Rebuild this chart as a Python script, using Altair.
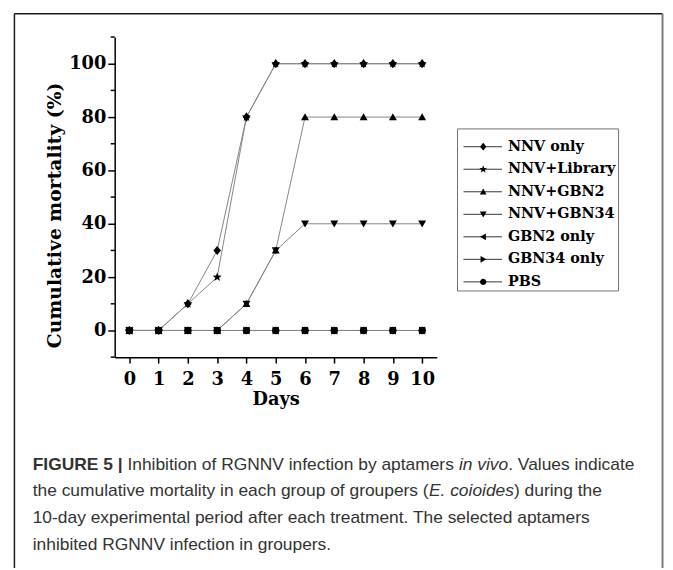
import math
import altair as alt
import pandas as pd

# ---------------- data ----------------
days = [0, 1, 2, 3, 4, 5, 6, 7, 8, 9, 10]
series_names = ["NNV only", "NNV+Library", "NNV+GBN2", "NNV+GBN34",
                "GBN2 only", "GBN34 only", "PBS"]
nnv_only    = [0, 0, 10, 30, 80, 100, 100, 100, 100, 100, 100]
nnv_library = [0, 0, 10, 20, 80, 100, 100, 100, 100, 100, 100]
nnv_gbn2    = [0, 0, 0, 0, 10, 30, 80, 80, 80, 80, 80]
nnv_gbn34   = [0, 0, 0, 0, 10, 30, 40, 40, 40, 40, 40]
gbn2_only   = [0, 0, 0, 0, 0, 0, 0, 0, 0, 0, 0]
gbn34_only  = [0, 0, 0, 0, 0, 0, 0, 0, 0, 0, 0]
pbs         = [0, 0, 0, 0, 0, 0, 0, 0, 0, 0, 0]

y_major_ticks = [0, 20, 40, 60, 80, 100]
y_minor_ticks = [-10, 10, 30, 50, 70, 90, 110]

y_title = "Cumulative mortality (%)"
x_title = "Days"

caption_segments = [
    (0, "FIGURE 5 |", "bold"),
    (0, " Inhibition of RGNNV infection by aptamers ", "normal"),
    (0, "in vivo", "italic"),
    (0, ". Values indicate", "normal"),
    (1, "the cumulative mortality in each group of groupers (", "normal"),
    (1, "E. coioides", "italic"),
    (1, ") during the", "normal"),
    (2, "10-day experimental period after each treatment. The selected aptamers", "normal"),
    (3, "inhibited RGNNV infection in groupers.", "normal"),
]

all_series = [nnv_only, nnv_library, nnv_gbn2, nnv_gbn34, gbn2_only, gbn34_only, pbs]
rows = []
for name, vals in zip(series_names, all_series):
    for d, v in zip(days, vals):
        rows.append({"series": name, "day": d, "value": v})
df = pd.DataFrame(rows)

# ---------------- layout (page px -> plot-origin px) ----------------
W, H = 326, 324
ORIGIN_X, ORIGIN_Y = 116, 34          # page position of plot area's top-left
PAD_L, PAD_T = ORIGIN_X - 8, ORIGIN_Y - 8
PAD_R = 673 - 8 - PAD_L - W
PAD_B = 568 - 8 - PAD_T - H

def rx(px):
    return px - ORIGIN_X

def ry(py):
    return py - ORIGIN_Y

# ---------------- marker shapes ----------------
def poly(pts, scale=1.0):
    return "M" + "L".join(f"{x*scale:.3f},{y*scale:.3f}" for x, y in pts) + "Z"

def circ(r=1.0):
    return f"M{r:.3f},0A{r:.3f},{r:.3f} 0 1,1 {-r:.3f},0A{r:.3f},{r:.3f} 0 1,1 {r:.3f},0Z"

STAR = []
for k in range(10):
    ang = math.radians(-90 + 36 * k)
    r = 1.0 if k % 2 == 0 else 0.42
    STAR.append((r * math.cos(ang), r * math.sin(ang)))
DIAMOND = [(0, -1.15), (0.95, 0), (0, 1.15), (-0.95, 0)]
TRI_UP = [(0, -0.95), (1, 0.8), (-1, 0.8)]
TRI_DOWN = [(0, 0.95), (1, -0.8), (-1, -0.8)]
TRI_LEFT = [(-0.95, 0), (0.8, -1), (0.8, 1)]
TRI_RIGHT = [(0.95, 0), (-0.8, -1), (-0.8, 1)]

plot_paths = [poly(DIAMOND), poly(STAR, 1.2), poly(TRI_UP), poly(TRI_DOWN),
              poly(TRI_LEFT), poly(TRI_RIGHT), circ(0.95)]

# ---------------- styling ----------------
SERIF = "DejaVu Serif"

xscale = alt.Scale(domain=[-0.5, 10.5], nice=False, zero=False)
yscale = alt.Scale(domain=[-10, 110], nice=False, zero=False)

x_axis = alt.Axis(values=days, title=x_title, grid=False, tickSize=6, tickWidth=1.5,
                  tickColor="black", domainColor="black", domainWidth=1.5,
                  labelFont=SERIF, labelFontWeight="bold", labelFontSize=18,
                  labelColor="black", labelPadding=8, labelAngle=0, labelFlush=False,
                  titleFont=SERIF, titleFontWeight="bold", titleFontSize=18,
                  titleColor="black", titlePadding=2)
y_axis = alt.Axis(values=y_major_ticks, title=y_title, grid=False, tickSize=7,
                  tickWidth=1.5, tickColor="black", domainColor="black", domainWidth=1.5,
                  labelFont=SERIF, labelFontWeight="bold", labelFontSize=18,
                  labelColor="black", labelPadding=2, format="d",
                  titleFont=SERIF, titleFontWeight="bold", titleFontSize=19,
                  titleColor="black", titlePadding=4, titleY=180)

X = alt.X("day:Q", scale=xscale, axis=x_axis)
Y = alt.Y("value:Q", scale=yscale, axis=y_axis)
SHAPE = alt.Shape("series:N", scale=alt.Scale(domain=series_names, range=plot_paths),
                  legend=None)

lines = alt.Chart(df).mark_line(color="#858585", strokeWidth=1).encode(
    x=X, y=Y, detail="series:N")

points = alt.Chart(df).mark_point(filled=True, size=64, color="black", opacity=1).encode(
    x=X, y=Y, shape=SHAPE)

minor_df = pd.DataFrame({"value": y_minor_ticks})
minor_ticks = alt.Chart(minor_df).mark_rule(color="black", strokeWidth=1.5).encode(
    y=Y, x=alt.value(-4), x2=alt.value(0))

# ---------------- legend (drawn as marks) ----------------
LEG_BOX = (463, 127, 626, 291)     # page px
LEG_ROW0, LEG_ROW_DY = 145, 22.8
LEG_LINE = (469, 508)
LEG_MARK_X, LEG_TEXT_X = 489, 514

legend_df = pd.DataFrame({
    "series": series_names,
    "ly": [ry(LEG_ROW0 + i * LEG_ROW_DY) for i in range(len(series_names))],
})
LY = alt.Y("ly:Q", scale=None)
one = alt.Data(values=[{"k": 1}])

leg_box = alt.Chart(one).mark_rect(fill="white", stroke="#707070", strokeWidth=1).encode(
    x=alt.value(rx(LEG_BOX[0])), x2=alt.value(rx(LEG_BOX[2])),
    y=alt.value(ry(LEG_BOX[1])), y2=alt.value(ry(LEG_BOX[3])))
leg_lines = alt.Chart(legend_df).mark_rule(color="#333333", strokeWidth=1).encode(
    x=alt.value(rx(LEG_LINE[0])), x2=alt.value(rx(LEG_LINE[1])), y=LY)
leg_marks = alt.Chart(legend_df).mark_point(filled=True, size=46, color="black",
                                             opacity=1).encode(
    x=alt.value(rx(LEG_MARK_X)), y=LY, shape=SHAPE)
leg_text = alt.Chart(legend_df).mark_text(align="left", baseline="middle", font=SERIF,
                                          fontWeight="bold", fontSize=14.5,
                                          color="black").encode(
    x=alt.value(rx(LEG_TEXT_X)), y=LY, text="series:N")

# ---------------- caption ----------------
HELV = {c: 556 for c in "abdeghnopqu0123456789"}
HELV.update({"c": 500, "f": 278, "i": 222, "j": 222, "k": 500, "l": 222, "m": 833,
             "r": 333, "s": 500, "t": 278, "v": 500, "w": 722, "x": 500, "y": 500,
             "z": 500, " ": 278, ".": 278, ",": 278, "(": 333, ")": 333, "-": 333,
             "|": 260, "A": 667, "B": 667, "C": 722, "D": 722, "E": 667, "F": 611,
             "G": 778, "H": 722, "I": 278, "N": 722, "R": 722, "T": 611, "U": 722,
             "V": 667})
HELV_B = dict(HELV)
HELV_B.update({"|": 280})
CAP_FS = 17.6
CAP_X0 = rx(33)
CAP_Y0 = ry(467)
CAP_DY = 27

def twidth(s, bold=False):
    tab = HELV_B if bold else HELV
    return sum(tab.get(ch, 556) for ch in s) / 1000.0 * CAP_FS

caption_layers = []
line_x = {}
for ln, seg, style in caption_segments:
    x = line_x.get(ln, CAP_X0)
    lead = len(seg) - len(seg.lstrip(" "))
    txt = seg.strip(" ")
    px = x + twidth(" " * lead)
    kw = dict(align="left", baseline="middle", font="Liberation Sans",
              fontSize=CAP_FS, color="#333333")
    if style == "bold":
        kw["fontWeight"] = "bold"
    if style == "italic":
        kw["fontStyle"] = "italic"
    caption_layers.append(
        alt.Chart(alt.Data(values=[{"t": txt}])).mark_text(**kw).encode(
            text="t:N", x=alt.value(px), y=alt.value(CAP_Y0 + ln * CAP_DY)))
    line_x[ln] = x + twidth(seg, style == "bold")

# ---------------- outer frame ----------------
FR_L, FR_T, FR_R = 14.5, 10.5, 670.5
frame_left = alt.Chart(one).mark_rule(color="#1a1a1a", strokeWidth=1.5).encode(
    x=alt.value(rx(FR_L)), y=alt.value(ry(FR_T)), y2=alt.value(ry(620)))
frame_top = alt.Chart(one).mark_rule(color="#1a1a1a", strokeWidth=1.5).encode(
    x=alt.value(rx(FR_L)), x2=alt.value(rx(FR_R)), y=alt.value(ry(FR_T)))
frame_right = alt.Chart(one).mark_rule(color="#7a7a7a", strokeWidth=2).encode(
    x=alt.value(rx(FR_R)), y=alt.value(ry(FR_T)), y2=alt.value(ry(620)))

chart = alt.layer(
    frame_left, frame_top, frame_right,
    minor_ticks, lines, points,
    leg_box, leg_lines, leg_marks, leg_text,
    *caption_layers
).properties(
    width=W, height=H,
    autosize=alt.AutoSizeParams(type="none"),
    padding={"left": PAD_L, "top": PAD_T, "right": PAD_R, "bottom": PAD_B},
    background="white",
).configure_view(stroke=None)

chart.save("out.html", embed_options={"renderer": "svg", "actions": False})
